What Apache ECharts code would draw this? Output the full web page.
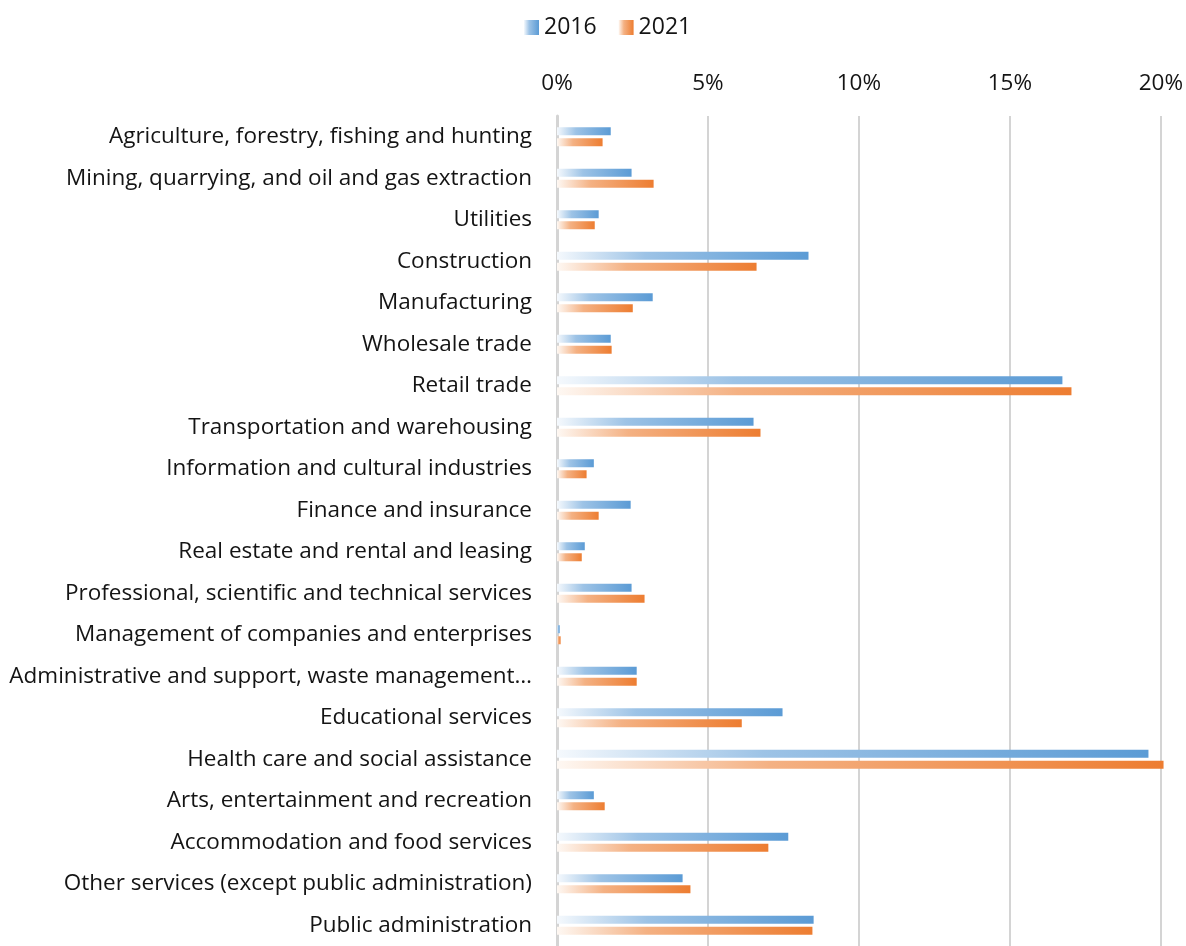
<!DOCTYPE html>
<html lang="en">
<head>
    <meta charset="UTF-8">
    <title>Industry shares 2016 vs 2021</title>
    <script src="https://cdn.jsdelivr.net/npm/echarts@6/dist/echarts.min.js"></script>
    <style>
        html, body { margin: 0; padding: 0; background: #fff; }
    </style>
</head>
<body>
    <div id="main" style="width: 1186px; height: 946px;"></div>
    <script>
        // categories, top to bottom
        var industries = [
            'Agriculture, forestry, fishing and hunting',
            'Mining, quarrying, and oil and gas extraction',
            'Utilities',
            'Construction',
            'Manufacturing',
            'Wholesale trade',
            'Retail trade',
            'Transportation and warehousing',
            'Information and cultural industries',
            'Finance and insurance',
            'Real estate and rental and leasing',
            'Professional, scientific and technical services',
            'Management of companies and enterprises',
            'Administrative and support, waste management\u2026',
            'Educational services',
            'Health care and social assistance',
            'Arts, entertainment and recreation',
            'Accommodation and food services',
            'Other services (except public administration)',
            'Public administration'
        ];

        // share of employment, percent
        var share2016 = [1.78, 2.47, 1.38, 8.33, 3.17, 1.78, 16.74, 6.51, 1.22, 2.44,
                         0.92, 2.47, 0.09, 2.64, 7.47, 19.59, 1.22, 7.66, 4.16, 8.50];
        var share2021 = [1.51, 3.20, 1.25, 6.61, 2.51, 1.81, 17.04, 6.74, 0.98, 1.38,
                         0.82, 2.90, 0.12, 2.64, 6.12, 20.09, 1.58, 7.00, 4.42, 8.46];

        var xTicks = [0, 5, 10, 15, 20];

        var chart = echarts.init(document.getElementById('main'));

        function fade(light, mid, full) {
            return new echarts.graphic.LinearGradient(0, 0, 1, 0, [
                { offset: 0, color: light },
                { offset: 0.35, color: mid },
                { offset: 1, color: full }
            ]);
        }

        var font = '"Open Sans", sans-serif';
        var ink = '#141414';

        var option = {
            animation: false,
            textStyle: { fontFamily: font },
            legend: {
                top: 11,
                left: 519,
                itemWidth: 15,
                itemHeight: 15,
                itemGap: 22,
                icon: 'rect',
                textStyle: { fontSize: 23, color: ink, fontFamily: font },
                data: ['2016', '2021']
            },
            grid: {
                left: 557,
                right: 24,
                top: 116,
                height: 836
            },
            xAxis: {
                type: 'value',
                position: 'top',
                min: xTicks[0],
                max: xTicks[xTicks.length - 1],
                interval: 5,
                axisLine: { show: false },
                axisTick: { show: false },
                axisLabel: {
                    margin: 21,
                    fontSize: 22.5,
                    color: ink,
                    formatter: '{value}%'
                },
                splitLine: { lineStyle: { color: '#d4d4d4', width: 2 } }
            },
            yAxis: {
                type: 'category',
                inverse: true,
                data: industries,
                axisLine: { show: true, lineStyle: { color: '#d4d4d4', width: 3 } },
                axisTick: { show: false },
                axisLabel: { margin: 25, fontSize: 22.5, color: ink, padding: [8, 0, 0, 0] }
            },
            series: [
                {
                    name: '2016',
                    type: 'bar',
                    data: share2016,
                    barWidth: 8,
                    barGap: '38%',
                    clip: false,
                    itemStyle: { color: fade('#f5f9fd', '#9dc3e6', '#5b9bd5') }
                },
                {
                    name: '2021',
                    type: 'bar',
                    data: share2021,
                    barWidth: 8,
                    barGap: '38%',
                    clip: false,
                    itemStyle: { color: fade('#fef8f3', '#f4b183', '#ed7d31') }
                }
            ]
        };

        chart.setOption(option);
    </script>
</body>
</html>
